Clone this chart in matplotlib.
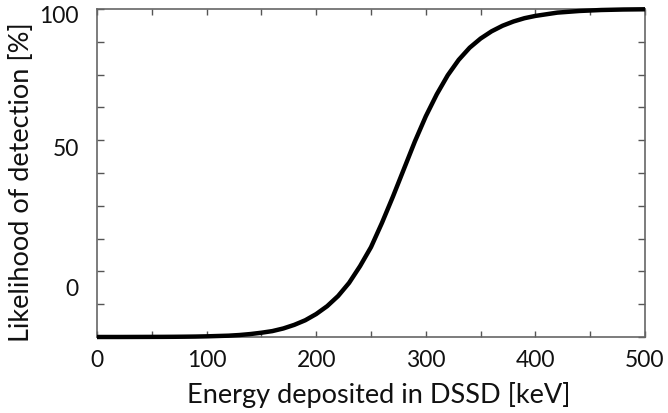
import matplotlib
matplotlib.use("Agg")
import matplotlib.pyplot as plt
from matplotlib.ticker import MultipleLocator

# detection efficiency
energy_kev = [0, 10, 20, 30, 40, 50, 60, 70, 80, 90, 100, 110, 120, 130, 140,
              150, 160, 170, 180, 190, 200, 210, 220, 230, 240, 250, 260, 270,
              280, 290, 300, 310, 320, 330, 340, 350, 360, 370, 380, 390, 400,
              420, 440, 460, 480, 500]
likelihood_pct = [0.0, 0.0, 0.0, 0.01, 0.02, 0.03, 0.04, 0.06, 0.09, 0.13, 0.2,
                  0.3, 0.4, 0.6, 0.9, 1.3, 1.8, 2.6, 3.7, 5.1, 7.0, 9.4, 12.5,
                  16.5, 21.6, 27.4, 34.8, 42.8, 51.2, 59.6, 67.3, 74.0, 79.8,
                  84.5, 88.2, 91.0, 93.2, 94.9, 96.2, 97.2, 97.9, 98.9, 99.4,
                  99.7, 99.85, 99.92]

x_ticks = [0, 100, 200, 300, 400, 500]
y_tick_labels = ["100", "50", "0"]
y_tick_pos = [98.5, 58.2, 15.5]

plt.rcParams['font.family'] = ['Lato', 'DejaVu Sans']

fig = plt.figure(figsize=(6.68, 4.14), dpi=100)
ax = fig.add_axes([0.1452, 0.1836, 0.8204, 0.7922])

ax.plot(energy_kev, likelihood_pct, color="black", lw=3.2,
        solid_capstyle="butt", clip_on=False, zorder=3)

ax.set_xlim(0, 500)
ax.set_ylim(0, 100)

ax.set_xticks(x_ticks)
ax.xaxis.set_minor_locator(MultipleLocator(50))
ax.yaxis.set_minor_locator(MultipleLocator(10))
ax.set_yticks(y_tick_pos)
ax.set_yticklabels(y_tick_labels)

for s in ax.spines.values():
    s.set_color("#666666")
    s.set_linewidth(1.2)

ax.tick_params(axis="both", which="both", direction="in", colors="#555555",
               labelcolor="#111111", labelsize=16.5, top=True, right=True)
ax.tick_params(axis="x", which="both", length=4, width=1.0, pad=9)
ax.tick_params(axis="y", which="major", length=0, pad=13)
ax.tick_params(axis="y", which="minor", length=5, width=1.0)

ax.set_xlabel("Energy deposited in DSSD [keV]", fontsize=19.5, color="#111111")
ax.set_ylabel("Likelihood of detection [%]", fontsize=19.5, color="#111111")
ax.xaxis.set_label_coords(0.515, -0.135)
ax.yaxis.set_label_coords(-0.115, 0.475)

fig.savefig("out.png", dpi=100)
